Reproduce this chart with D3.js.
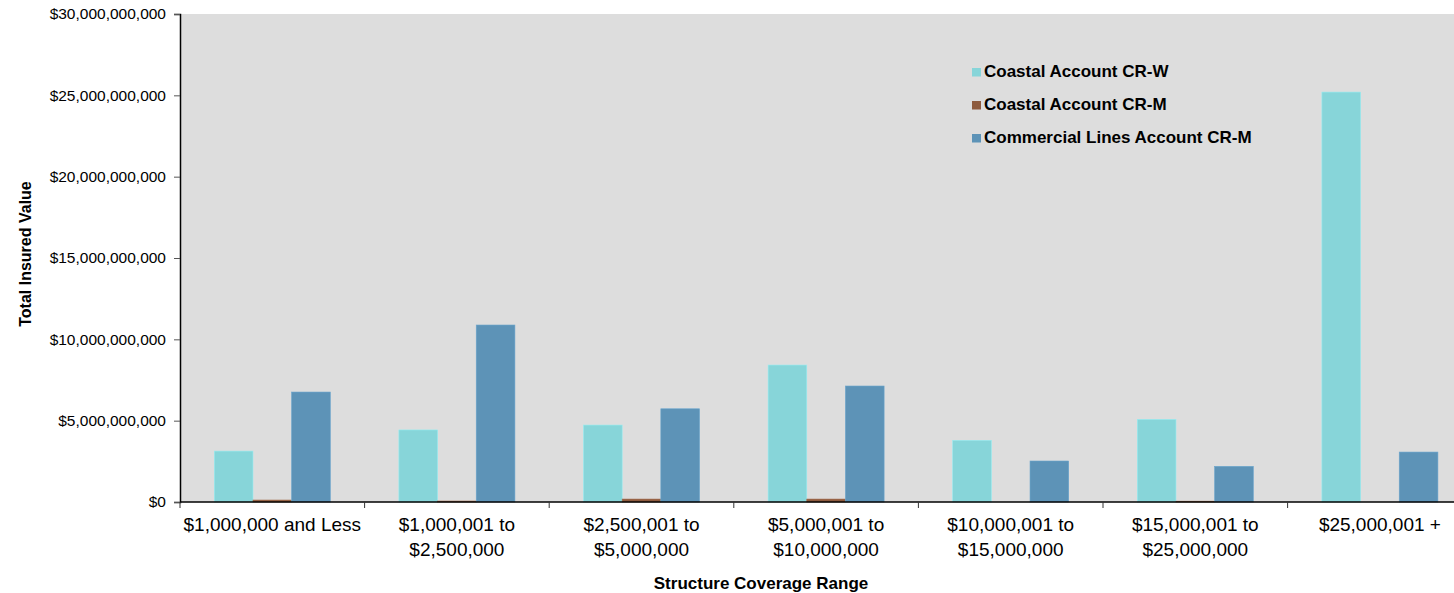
<!DOCTYPE html>
<html><head><meta charset="utf-8">
<script src="https://cdn.jsdelivr.net/npm/d3@7"></script>
<style>body{margin:0;background:#fff}svg{display:block;font-family:"Liberation Sans",Arial,sans-serif}</style>
</head><body><svg id="c" width="1454" height="593"></svg>
<script>
const categories = [["$1,000,000 and Less"],["$1,000,001 to","$2,500,000"],["$2,500,001 to","$5,000,000"],["$5,000,001 to","$10,000,000"],["$10,000,001 to","$15,000,000"],["$15,000,001 to","$25,000,000"],["$25,000,001 +"]];
const seriesNames = ["Coastal Account CR-W","Coastal Account CR-M","Commercial Lines Account CR-M"];
const coastalW = [3.13e9, 4.43e9, 4.73e9, 8.42e9, 3.79e9, 5.08e9, 25.2e9];
const coastalM = [0.12e9, 0.06e9, 0.18e9, 0.18e9, 0.0, 0.05e9, 0.0];
const commercialM = [6.76e9, 10.88e9, 5.73e9, 7.13e9, 2.52e9, 2.19e9, 3.07e9];
const yTicks = [0, 5e9, 10e9, 15e9, 20e9, 25e9, 30e9];
const colors = ["#87D5D9", "#8E5B3E", "#5D93B7"];

const svg = d3.select("#c");
const L = 180, T = 14, B = 502, R = 180 + 7*184.6;
const x0 = d3.scaleBand().domain(d3.range(7)).range([L, R]).paddingInner(0).paddingOuter(0);
const inner = 116/184.6;
const x1 = d3.scaleBand().domain(d3.range(3)).range([0, x0.bandwidth()*inner]);
const y = d3.scaleLinear().domain([0, 30e9]).range([B, T]);

svg.append("rect").attr("x", L).attr("y", T).attr("width", R-L).attr("height", B-T).attr("fill", "#DDDDDD");

const data = [coastalW, coastalM, commercialM];
const off = x0.bandwidth()*(1-inner)/2;
categories.forEach((c, i) => {
  data.forEach((s, j) => {
    const v = s[i];
    if (v <= 0) return;
    svg.append("rect")
      .attr("x", x0(i) + off + x1(j))
      .attr("y", y(v))
      .attr("width", x1.bandwidth())
      .attr("height", B - y(v))
      .attr("fill", colors[j])
      .attr("stroke", d3.color(colors[j]).brighter(0.3))
      .attr("stroke-width", 0.6);
  });
});

// y axis
const fmt = v => "$" + d3.format(",")(v);
const ya = svg.append("g").attr("transform", `translate(${L},0)`)
  .call(d3.axisLeft(y).tickValues(yTicks).tickFormat(fmt).tickSizeOuter(0).tickSize(6).tickPadding(8));
ya.select(".domain").attr("stroke", "#000").attr("stroke-width", 1.5);
ya.selectAll(".tick line").attr("stroke", "#555");
ya.selectAll("text").attr("font-size", 15.5).attr("fill", "#000").attr("font-family", "Liberation Sans, Arial, sans-serif");

// x axis
const xa = svg.append("g").attr("transform", `translate(0,${B})`);
xa.append("line").attr("x1", L).attr("x2", R).attr("y1", 0).attr("y2", 0).attr("stroke", "#000").attr("stroke-width", 1.5);
d3.range(8).forEach(i => {
  const xx = i < 7 ? x0(i) : R;
  xa.append("line").attr("x1", xx).attr("x2", xx).attr("y1", 0).attr("y2", 6).attr("stroke", "#333");
});
categories.forEach((c, i) => {
  const t = xa.append("text").attr("text-anchor", "middle").attr("font-size", 19).attr("fill", "#000");
  c.forEach((line, k) => t.append("tspan").attr("x", x0(i) + x0.bandwidth()/2).attr("y", 29 + k*25).text(line));
});

svg.append("text").attr("x", 761).attr("y", 589).attr("text-anchor", "middle")
  .attr("font-size", 17).attr("font-weight", "bold").text("Structure Coverage Range");
svg.append("text").attr("transform", "translate(31,254) rotate(-90)").attr("text-anchor", "middle")
  .attr("font-size", 16).attr("font-weight", "bold").text("Total Insured Value");

// legend
const lg = svg.append("g");
seriesNames.forEach((n, i) => {
  const yy = 76.5 + i*33;
  lg.append("rect").attr("x", 972).attr("y", yy - 8.5).attr("width", 9).attr("height", 8.5).attr("fill", colors[i]);
  lg.append("text").attr("x", 984).attr("y", yy).attr("font-size", 17).attr("font-weight", "bold").text(n);
});
</script></body></html>
